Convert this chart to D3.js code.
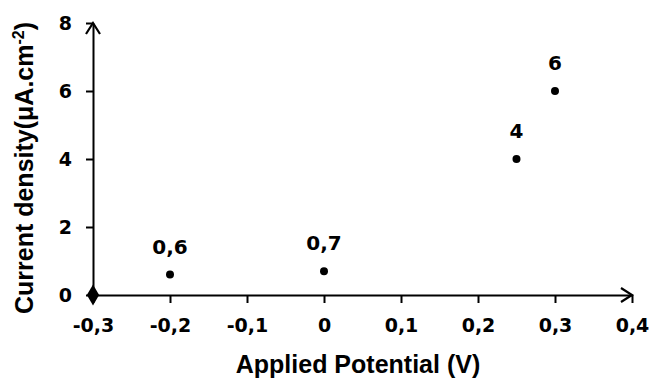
<!DOCTYPE html>
<html><head><meta charset="utf-8">
<script src="https://cdn.jsdelivr.net/npm/d3@7"></script>
<style>body{margin:0;background:#fff}svg{display:block}text{font-weight:bold;fill:#000}</style>
</head><body><svg id="c" width="652" height="378"></svg>
<script>
const potentials = [-0.3, -0.2, 0, 0.25, 0.3];
const currents = [0, 0.6, 0.7, 4, 6];
const pointLabels = ["", "0,6", "0,7", "4", "6"];
const markerShapes = ["diamond", "circle", "circle", "circle", "circle"];
const xTicks = [-0.3, -0.2, -0.1, 0, 0.1, 0.2, 0.3, 0.4];
const xTickLabels = ["-0,3", "-0,2", "-0,1", "0", "0,1", "0,2", "0,3", "0,4"];
const yTicks = [0, 2, 4, 6, 8];
const yTickLabels = ["0", "2", "4", "6", "8"];

const tickFont = "'DejaVu Sans', Verdana, sans-serif";
const titleFont = "'Liberation Sans', Arial, sans-serif";

const svg = d3.select("#c");
const x = d3.scaleLinear().domain([-0.3, 0.4]).range([93, 632]);
const y = d3.scaleLinear().domain([0, 8]).range([295, 23]);

// x axis
const xa = svg.append("g").attr("transform", `translate(0,${y(0)})`)
  .call(d3.axisBottom(x).tickValues(xTicks).tickFormat((d,i)=>xTickLabels[i]).tickSize(8).tickSizeOuter(0).tickPadding(16));
xa.select(".domain").attr("stroke", "#000").attr("stroke-width", 2);
xa.selectAll(".tick line").attr("stroke", "#000").attr("stroke-width", 2);
xa.selectAll(".tick text").style("font-size", "19px").style("font-family", tickFont).style("font-weight", "bold").attr("fill", "#000");

// y axis
const ya = svg.append("g").attr("transform", `translate(${x(-0.3)},0)`)
  .call(d3.axisLeft(y).tickValues(yTicks).tickFormat((d,i)=>yTickLabels[i]).tickSize(7).tickSizeOuter(0).tickPadding(14));
ya.select(".domain").attr("stroke", "#000").attr("stroke-width", 2);
ya.selectAll(".tick line").attr("stroke", "#000").attr("stroke-width", 2);
ya.selectAll(".tick text").style("font-size", "19px").style("font-family", tickFont).style("font-weight", "bold").attr("fill", "#000");

// arrow heads (open chevrons)
const xEnd = x(0.4), y0 = y(0);
svg.append("path").attr("d", `M${xEnd-11},${y0-7} L${xEnd},${y0} L${xEnd-11},${y0+7}`)
  .attr("fill", "none").attr("stroke", "#000").attr("stroke-width", 2.2);
const yTop = y(8), x0 = x(-0.3);
svg.append("path").attr("d", `M${x0-7},${yTop+11} L${x0},${yTop} L${x0+7},${yTop+11}`)
  .attr("fill", "none").attr("stroke", "#000").attr("stroke-width", 2.2);

// points
const data = potentials.map((p,i)=>({p, c: currents[i], l: pointLabels[i], s: markerShapes[i]}));
svg.selectAll("path.pt").data(data).enter().append("path").attr("class","pt")
  .attr("transform", d=>`translate(${x(d.p)},${y(d.c)})`)
  .attr("d", d=> d.s === "diamond" ? d3.symbol(d3.symbolDiamond, 130)() : d3.symbol(d3.symbolCircle, 50)())
  .attr("fill", "#000");

svg.selectAll("text.lbl").data(data).enter().append("text").attr("class","lbl")
  .attr("x", d=>x(d.p)).attr("y", d=>y(d.c)-21)
  .attr("text-anchor", "middle").style("font-size", "20px").style("font-family", tickFont).text(d=>d.l);

// axis titles
svg.append("text").attr("x", 358).attr("y", 373).attr("text-anchor", "middle")
  .style("font-size", "25px").style("font-family", titleFont).text("Applied Potential (V)");
const yt = svg.append("text").attr("transform", "translate(33,168) rotate(-90)").attr("text-anchor", "middle")
  .style("font-size", "25px").style("font-family", titleFont);
yt.append("tspan").text("Current density(μA.cm");
yt.append("tspan").attr("dy", -9).style("font-size", "16px").text("-2");
yt.append("tspan").attr("dy", 9).text(")");
</script></body></html>
